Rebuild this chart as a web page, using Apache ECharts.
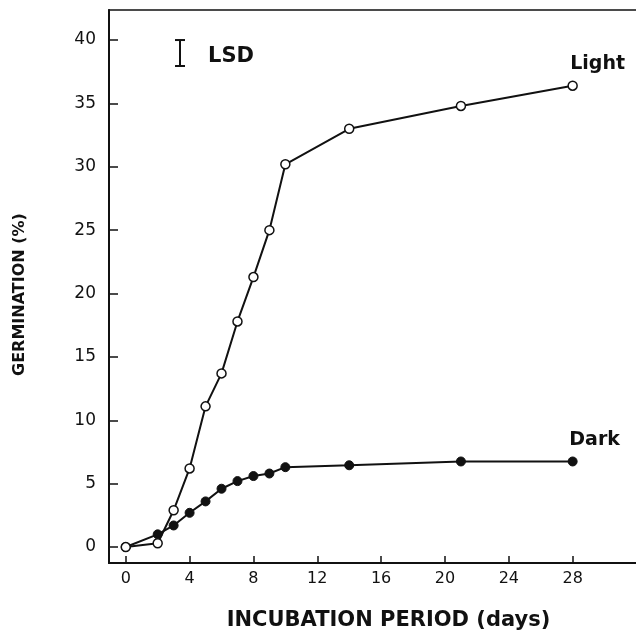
<html>
  <head>
    <meta charset="utf-8">
    <style>
      html, body { margin: 0; padding: 0; background: #fff; }
      #chart { width: 636px; height: 633px; }
    </style>
  </head>
  <body>
    <div id="chart"></div>
  </body>
  <script src="https://cdn.jsdelivr.net/npm/echarts@6.0.0/dist/echarts.min.js"></script>
  <script>

// incubation days and germination (%)
var lightDays = [0, 2, 3, 4, 5, 6, 7, 8, 9, 10, 14, 21, 28];
var lightValues = [0, 0.3, 2.9, 6.2, 11.1, 13.7, 17.8, 21.3, 25.0, 30.2, 33.0, 34.8, 36.4];
var darkDays = [0, 2, 3, 4, 5, 6, 7, 8, 9, 10, 14, 21, 28];
var darkValues = [0, 1.0, 1.7, 2.7, 3.6, 4.6, 5.2, 5.6, 5.8, 6.3, 6.45, 6.75, 6.75];
var xTicks = [0, 4, 8, 12, 16, 20, 24, 28];
var yTicks = [0, 5, 10, 15, 20, 25, 30, 35, 40];
// LSD bar: [day, low, high]
var lsd = [[3.4, 37.95, 40.0]];

var tickFont = 'DejaVu Sans';
var boldFont = 'DejaVu Sans';

function makeData(days, values, name, offset) {
  var out = [];
  for (var i = 0; i < days.length; i++) {
    var item = { value: [days[i], values[i]] };
    if (i == days.length - 1) {
      item.label = {
        show: true,
        position: 'top',
        formatter: name,
        offset: offset,
        color: '#111',
        fontFamily: boldFont,
        fontWeight: 'bold',
        fontSize: 19
      };
    }
    out.push(item);
  }
  return out;
}

var chart = echarts.init(document.getElementById('chart'));

var option = {
  animation: false,
  grid: {
    left: 109,
    top: 10,
    right: -4,
    bottom: 70,
    outerBoundsMode: 'none',
    containLabel: false,
    show: true,
    borderColor: '#111',
    borderWidth: 1.5
  },
  xAxis: {
    type: 'value',
    min: -1.05,
    max: 32.22,
    splitLine: { show: false },
    axisLine: { onZero: false, lineStyle: { color: '#111', width: 2 } },
    axisTick: { inside: true, length: 7, customValues: xTicks, lineStyle: { color: '#111', width: 1.5 } },
    axisLabel: { customValues: xTicks, color: '#111', fontFamily: tickFont, fontSize: 16, margin: 8 },
    name: 'INCUBATION PERIOD (days)',
    nameLocation: 'middle',
    nameGap: 47,
    nameTextStyle: { color: '#111', fontFamily: boldFont, fontWeight: 'bold', fontSize: 21, padding: [0, 0, 0, 28] }
  },
  yAxis: {
    type: 'value',
    min: -1.26,
    max: 42.37,
    splitLine: { show: false },
    axisLine: { onZero: false, lineStyle: { color: '#111', width: 2 } },
    axisTick: { inside: true, length: 9, customValues: yTicks, lineStyle: { color: '#111', width: 1.5 } },
    axisLabel: { customValues: yTicks, color: '#111', fontFamily: tickFont, fontSize: 17, margin: 13 },
    name: 'GERMINATION (%)',
    nameLocation: 'middle',
    nameGap: 81,
    nameTextStyle: { color: '#111', fontFamily: boldFont, fontWeight: 'bold', fontSize: 16, padding: [0, 16, 0, 0] }
  },
  series: [
    {
      name: 'Light',
      type: 'line',
      data: makeData(lightDays, lightValues, 'Light', [25, -2]),
      symbol: 'circle',
      symbolSize: 9,
      itemStyle: { color: '#fff', borderColor: '#111', borderWidth: 1.5 },
      lineStyle: { color: '#111', width: 2 },
      z: 3
    },
    {
      name: 'Dark',
      type: 'line',
      data: makeData(darkDays, darkValues, 'Dark', [22, -2]),
      symbol: 'circle',
      symbolSize: 9,
      itemStyle: { color: '#111', borderColor: '#111', borderWidth: 1 },
      lineStyle: { color: '#111', width: 2 },
      z: 2
    },
    {
      name: 'LSD',
      type: 'custom',
      data: lsd,
      renderItem: function (params, api) {
        var top = api.coord([api.value(0), api.value(2)]);
        var bot = api.coord([api.value(0), api.value(1)]);
        var style = { stroke: '#111', lineWidth: 2 };
        return {
          type: 'group',
          children: [
            { type: 'line', shape: { x1: top[0], y1: top[1], x2: bot[0], y2: bot[1] }, style: style },
            { type: 'line', shape: { x1: top[0] - 5, y1: top[1], x2: top[0] + 5, y2: top[1] }, style: style },
            { type: 'line', shape: { x1: bot[0] - 5, y1: bot[1], x2: bot[0] + 5, y2: bot[1] }, style: style },
            {
              type: 'text',
              x: top[0] + 28,
              y: bot[1] + 1,
              style: {
                text: 'LSD',
                fill: '#111',
                font: 'bold 21px "DejaVu Sans"',
                textVerticalAlign: 'bottom'
              }
            }
          ]
        };
      }
    }
  ]
};

chart.setOption(option);

  </script>
</html>
